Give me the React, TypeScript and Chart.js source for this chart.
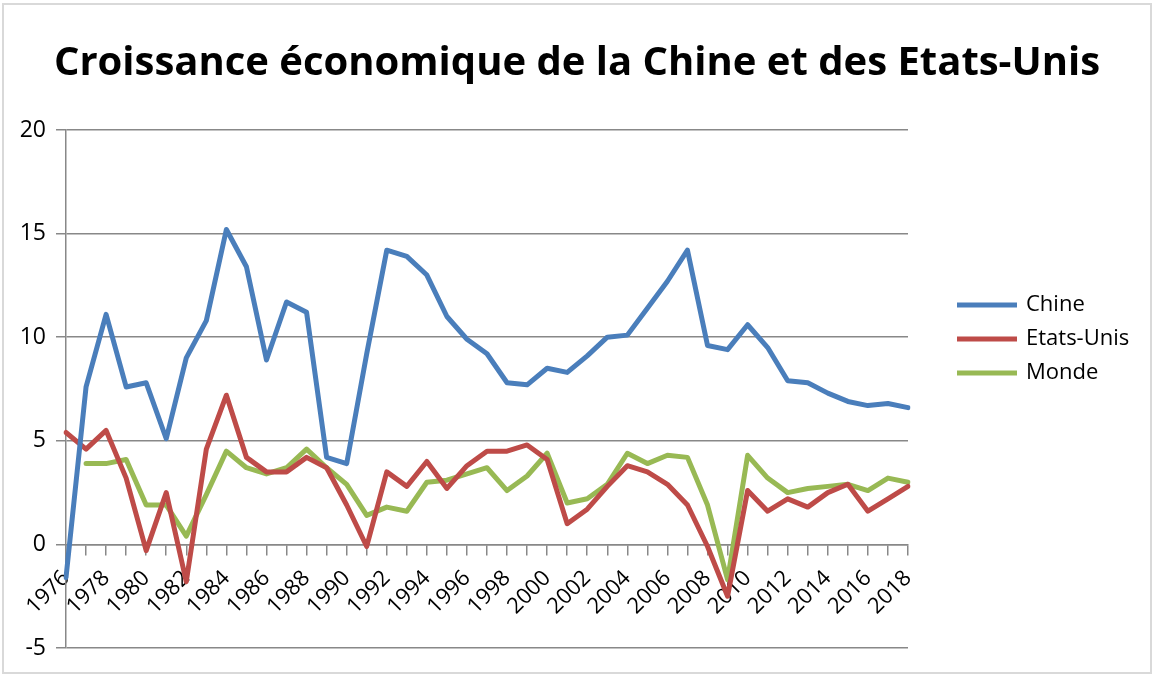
import React, { useEffect, useRef } from "react";
import { Chart, registerables } from "chart.js";

Chart.register(...registerables);

const years = [
  "1976", "1977", "1978", "1979", "1980", "1981", "1982", "1983", "1984", "1985",
  "1986", "1987", "1988", "1989", "1990", "1991", "1992", "1993", "1994", "1995",
  "1996", "1997", "1998", "1999", "2000", "2001", "2002", "2003", "2004", "2005",
  "2006", "2007", "2008", "2009", "2010", "2011", "2012", "2013", "2014", "2015",
  "2016", "2017", "2018",
];

const chine = [
  -1.6, 7.6, 11.1, 7.6, 7.8, 5.1, 9.0, 10.8, 15.2, 13.4,
  8.9, 11.7, 11.2, 4.2, 3.9, 9.2, 14.2, 13.9, 13.0, 11.0,
  9.9, 9.2, 7.8, 7.7, 8.5, 8.3, 9.1, 10.0, 10.1, 11.4,
  12.7, 14.2, 9.6, 9.4, 10.6, 9.5, 7.9, 7.8, 7.3, 6.9,
  6.7, 6.8, 6.6,
];

const etatsUnis = [
  5.4, 4.6, 5.5, 3.2, -0.3, 2.5, -1.8, 4.6, 7.2, 4.2,
  3.5, 3.5, 4.2, 3.7, 1.9, -0.1, 3.5, 2.8, 4.0, 2.7,
  3.8, 4.5, 4.5, 4.8, 4.1, 1.0, 1.7, 2.8, 3.8, 3.5,
  2.9, 1.9, -0.1, -2.5, 2.6, 1.6, 2.2, 1.8, 2.5, 2.9,
  1.6, 2.2, 2.8,
];

const monde = [
  null, 3.9, 3.9, 4.1, 1.9, 1.9, 0.4, 2.4, 4.5, 3.7,
  3.4, 3.7, 4.6, 3.7, 2.9, 1.4, 1.8, 1.6, 3.0, 3.1,
  3.4, 3.7, 2.6, 3.3, 4.4, 2.0, 2.2, 2.9, 4.4, 3.9,
  4.3, 4.2, 1.9, -1.7, 4.3, 3.2, 2.5, 2.7, 2.8, 2.9,
  2.6, 3.2, 3.0,
];

const seriesNames = ["Chine", "Etats-Unis", "Monde"];
const seriesColors = ["#4A7EBB", "#BE4B48", "#98B954"];
const titleText = "Croissance économique de la Chine et des Etats-Unis";

const FONT = "'Open Sans', 'DejaVu Sans', sans-serif";

const titleLegendPlugin = {
  id: "titleAndLegend",
  afterDraw(chart: any) {
    const ctx = chart.ctx;
    const area = chart.chartArea;
    ctx.save();
    // Title centred over the full canvas
    ctx.fillStyle = "#000";
    ctx.font = `bold 40px ${FONT}`;
    ctx.textAlign = "center";
    ctx.textBaseline = "alphabetic";
    ctx.fillText(titleText, chart.width / 2, 75);

    // Legend on the right
    const x0 = area.right + 49;
    const yMid = (area.top + area.bottom) / 2 - 50;
    chart.data.datasets.forEach((ds: any, i: number) => {
      const y = yMid + (i - 1) * 34;
      ctx.strokeStyle = ds.borderColor;
      ctx.lineWidth = 5;
      ctx.lineCap = "butt";
      ctx.beginPath();
      ctx.moveTo(x0, y);
      ctx.lineTo(x0 + 60, y);
      ctx.stroke();
      ctx.fillStyle = "#000";
      ctx.font = `22px ${FONT}`;
      ctx.textBaseline = "middle";
      ctx.textAlign = "left";
      ctx.fillText(ds.label, x0 + 69, y);
    });
    ctx.restore();
  },
};

export default function App() {
  const canvasRef = useRef<HTMLCanvasElement | null>(null);

  useEffect(() => {
    document.body.style.margin = "0";
    const canvas = canvasRef.current;
    if (!canvas) return;
    const data = [chine, etatsUnis, monde];
    const chart = new Chart(canvas, {
      type: "line",
      data: {
        labels: years,
        datasets: seriesNames.map((name, i) => ({
          label: name,
          data: data[i] as any,
          borderColor: seriesColors[i],
          backgroundColor: seriesColors[i],
          borderWidth: 5,
          pointRadius: 0,
          tension: 0,
          borderJoinStyle: "round" as const,
          borderCapStyle: "round" as const,
          fill: false,
        })),
      },
      options: {
        responsive: false,
        animation: false,
        devicePixelRatio: 1,
        layout: {
          padding: { left: 0, right: 246, top: 130, bottom: 27 },
        },
        plugins: {
          legend: { display: false },
          tooltip: { enabled: false },
          title: { display: false },
        },
        scales: {
          x: {
            type: "category",
            position: { y: 0 } as any,
            offset: false,
            grid: {
              drawOnChartArea: false,
              drawTicks: true,
              tickLength: 10,
              color: "#888888",
              lineWidth: 1.5,
            },
            border: { display: true, color: "#888888", width: 1.5 },
            ticks: {
              autoSkip: false,
              minRotation: 45,
              maxRotation: 45,
              color: "#000",
              font: { family: FONT, size: 22 },
              padding: 11,
              callback: function (_v: any, index: number) {
                return index % 2 === 0 ? years[index] : "";
              },
            },
          },
          y: {
            min: -5,
            max: 20,
            grid: {
              color: "#888888",
              lineWidth: 1.5,
              drawTicks: true,
              tickLength: 10,
            },
            border: { display: true, color: "#888888", width: 1.5 },
            ticks: {
              stepSize: 5,
              color: "#000",
              font: { family: FONT, size: 23 },
              padding: 10,
            },
            afterFit(scale: any) {
              scale.width = 66;
            },
          },
        },
      },
      plugins: [titleLegendPlugin],
    });
    return () => chart.destroy();
  }, []);

  return (
    <div style={{ position: "relative", width: 1154, height: 675 }}>
      <canvas ref={canvasRef} width={1154} height={675} style={{ display: "block" }} />
      <div
        style={{
          position: "absolute",
          left: 2,
          top: 3,
          width: 1150,
          height: 671,
          boxSizing: "border-box",
          border: "2px solid #d9d9d9",
          pointerEvents: "none",
        }}
      />
    </div>
  );
}
